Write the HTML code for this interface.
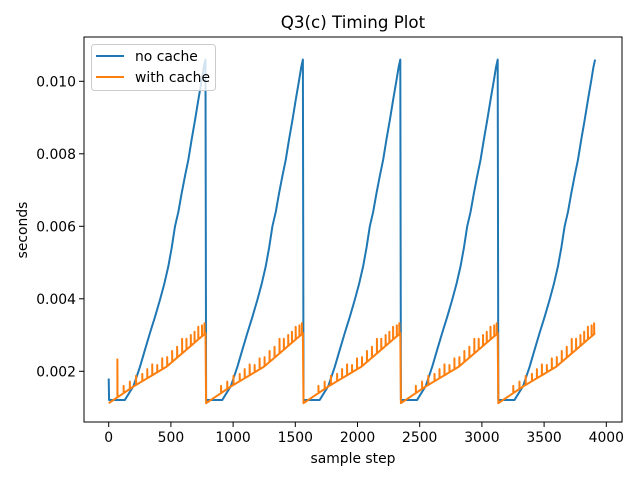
<!DOCTYPE html>
<html><head><meta charset="utf-8"><style>
body{margin:0;background:#fff}
svg{display:block;font-family:"DejaVu Sans","Liberation Sans",sans-serif}
</style></head><body>
<svg id="c" width="640" height="480">
<rect x="0" y="0" width="640" height="480" fill="#fff"/>
<text x="353" y="28" font-size="16.7" text-anchor="middle" fill="#000">Q3(c) Timing Plot</text>
<text x="353" y="463" font-size="13.9" text-anchor="middle" fill="#000">sample step</text>
<text x="27" y="230" font-size="13.9" text-anchor="middle" fill="#000" transform="rotate(-90 27 230)">seconds</text>
<g id="plot"></g>
<g id="axes"></g>
<g>
<rect x="91.5" y="44.5" width="124" height="46" rx="3" fill="#fff" fill-opacity="0.8" stroke="#ccc"/>
<line x1="96" y1="56" x2="124" y2="56" stroke="#1f77b4" stroke-width="2"/>
<text x="135" y="61" font-size="13.9">no cache</text>
<line x1="96" y1="77" x2="124" y2="77" stroke="#ff7f0e" stroke-width="2"/>
<text x="135" y="82" font-size="13.9">with cache</text>
</g>
</svg>
<script>
const cycleStarts=[0,783,1566,2349,3132];
const noCacheT=[0,130,200,252,292,332,372,412,446,479,506,533,560,587,614,640,667,694,721,748,765,778];
const noCacheV=[0.00121,0.00121,0.0016,0.00213,0.0026,0.00306,0.0035,0.00397,0.0044,0.00489,0.0054,0.0060,0.0064,0.00692,0.0074,0.00783,0.0084,0.00893,0.0095,0.01004,0.0104,0.0106];
const cacheT=[0,198,466,778];
const cacheV=[0.00112,0.00158,0.00213,0.00305];
const spikeT=[120,170,220,270,310,350,390,430,470,510,550,590,625,660,690,720,750,770];
const spikeH=[0.0002,0.0002,0.00025,0.0002,0.00025,0.0003,0.0002,0.0003,0.00025,0.0003,0.0003,0.0004,0.0003,0.0003,0.0003,0.00035,0.0003,0.0003];
const firstSpikeT=70, firstSpikeV=0.00233, firstBlueV=0.0018;
const xTicks=[0,500,1000,1500,2000,2500,3000,3500,4000];
const yTicks=[0.002,0.004,0.006,0.008,0.010];
const yTickLabels=["0.002","0.004","0.006","0.008","0.010"];
const L=84,R=622,T=37,B=422;
const X=v=>108.7+v*0.1244;
const Y=v=>371.3-(v-0.002)*36250;
const NS="http://www.w3.org/2000/svg";
const plot=document.getElementById('plot'),axes=document.getElementById('axes');
function mk(tag,at,parent){const e=document.createElementNS(NS,tag);for(const k in at)e.setAttribute(k,at[k]);parent.appendChild(e);return e;}
function interp(ts,vs,t){for(let i=1;i<ts.length;i++){if(t<=ts[i]){const f=(t-ts[i-1])/(ts[i]-ts[i-1]);return vs[i-1]+f*(vs[i]-vs[i-1]);}}return vs[vs.length-1];}
let d="";
cycleStarts.forEach((s,ci)=>{noCacheT.forEach((t,i)=>{let v=noCacheV[i];if(ci===0&&i===0){d+="M"+X(0)+","+Y(firstBlueV)+"L"+X(3)+","+Y(v);return;}d+=(d?"L":"M")+X(s+t)+","+Y(v);});});
const p1=mk('path',{d:d,fill:'none',stroke:'#1f77b4','stroke-width':2,'stroke-linejoin':'round'},plot);


let d2="";
cycleStarts.forEach((s,ci)=>{
  let pts=[];
  cacheT.forEach((t,i)=>pts.push([t,cacheV[i],0]));
  spikeT.forEach((t,i)=>pts.push([t,interp(cacheT,cacheV,t),spikeH[i]]));
  if(ci===0)pts.push([firstSpikeT,interp(cacheT,cacheV,firstSpikeT),firstSpikeV-interp(cacheT,cacheV,firstSpikeT)]);
  pts.sort((a,b)=>a[0]-b[0]);
  pts.forEach(p=>{
    d2+=(d2?"L":"M")+X(s+p[0])+","+Y(p[1]);
    if(p[2]>0){d2+="L"+X(s+p[0])+","+Y(p[1]+p[2])+"L"+X(s+p[0]+1)+","+Y(p[1]);}
  });
});
const p2=mk('path',{d:d2,fill:'none',stroke:'#ff7f0e','stroke-width':2,'stroke-linejoin':'round'},plot);


const fr=mk('rect',{x:L,y:T,width:R-L,height:B-T,fill:'none',stroke:'#000','stroke-width':1},axes);


xTicks.forEach(v=>{
  const tk=mk('line',{x1:X(v),x2:X(v),y1:B,y2:B+5,stroke:'#000'},axes);
  
  
  const tx=mk('text',{x:X(v),y:B+20,'font-size':13.9,'text-anchor':'middle'},axes);
  tx.textContent=v;
  
  
});
yTicks.forEach((v,i)=>{
  const tk=mk('line',{x1:L-5,x2:L,y1:Y(v),y2:Y(v),stroke:'#000'},axes);
  
  
  const tx=mk('text',{x:L-8,y:Y(v)+5,'font-size':13.9,'text-anchor':'end'},axes);
  tx.textContent=yTickLabels[i];
  
  
});
</script>
</body></html>
